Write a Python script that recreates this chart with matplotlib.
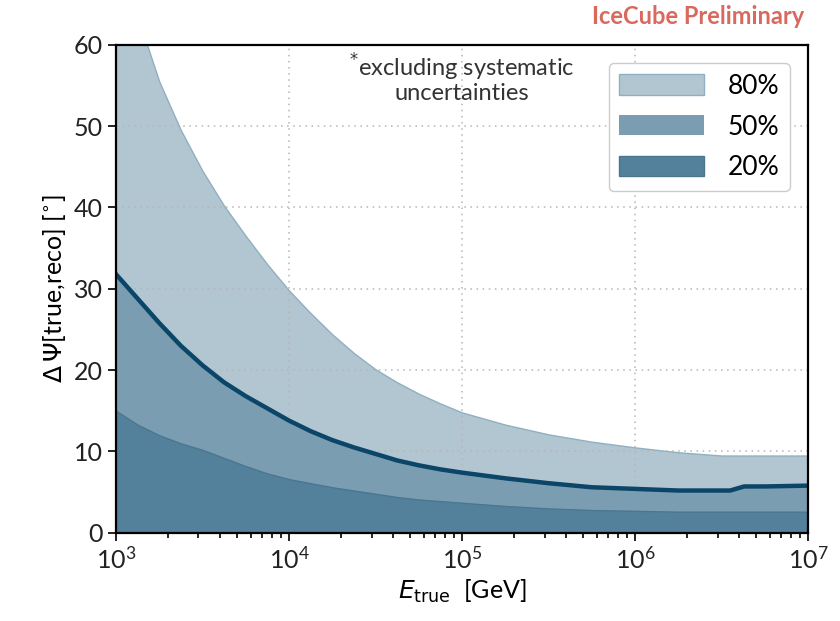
import numpy as np
import matplotlib.pyplot as plt

plt.rcParams['font.family'] = ['Lato', 'DejaVu Sans']
plt.rcParams['mathtext.fontset'] = 'dejavusans'

# log10(E_true / GeV) and the 80 / 50 / 20 % quantiles of the opening angle (deg)
log_e = [3.0, 3.125, 3.25, 3.375, 3.5, 3.625, 3.75, 3.875, 4.0, 4.125, 4.25, 4.375,
         4.5, 4.625, 4.75, 4.875, 5.0, 5.25, 5.5, 5.75, 6.0, 6.25, 6.5, 6.55, 6.63,
         6.75, 7.0]
q80 = [72.0, 63.5, 55.5, 49.5, 44.5, 40.2, 36.5, 33.0, 29.8, 27.0, 24.4, 22.1,
       20.1, 18.5, 17.1, 15.9, 14.8, 13.3, 12.1, 11.2, 10.5, 9.9, 9.5, 9.5, 9.5,
       9.5, 9.5]
q50 = [31.8, 28.8, 25.8, 23.0, 20.6, 18.5, 16.8, 15.3, 13.8, 12.5, 11.4, 10.5,
       9.7, 8.9, 8.3, 7.8, 7.4, 6.7, 6.1, 5.6, 5.4, 5.2, 5.2, 5.2, 5.7,
       5.7, 5.8]
q20 = [15.0, 13.3, 12.0, 11.0, 10.2, 9.2, 8.2, 7.3, 6.6, 6.1, 5.6, 5.2,
       4.8, 4.4, 4.1, 3.9, 3.7, 3.3, 3.0, 2.8, 2.7, 2.6, 2.6, 2.6, 2.6,
       2.6, 2.6]

energy = 10 ** np.array(log_e)

fig, ax = plt.subplots(figsize=(8.4, 6.21), dpi=100)
fig.subplots_adjust(left=0.138, right=0.962, top=0.928, bottom=0.142)

ax.fill_between(energy, 0, q80, color='#b2c6d1', edgecolor='#8fb0c0', lw=1, label='80%', zorder=2)
ax.fill_between(energy, 0, q50, color='#7b9db1', lw=0, label='50%', zorder=3)
ax.fill_between(energy, 0, q20, color='#53819b', edgecolor='#4a7690', lw=1, label='20%', zorder=4)
ax.plot(energy, q50, color='#0b4668', lw=3.2, zorder=5)

ax.set_xscale('log')
ax.set_xlim(1e3, 1e7)
ax.set_ylim(0, 60)
ax.grid(True, which='major', ls=(0, (1, 3)), color='#b5b5b5', lw=1.1, zorder=6)
ax.set_axisbelow(False)
for s in ax.spines.values():
    s.set_linewidth(1.6)
    s.set_zorder(7)
ax.tick_params(labelsize=18, width=1.4, length=6, colors='#222222')
ax.tick_params(which='minor', width=1.2, length=3.5)

ax.set_xlabel(r'$E_{\mathrm{true}}$  [GeV]', fontsize=18)
ax.set_ylabel(r'$\mathit{\Delta\,\Psi}$[true,reco] [$^{\circ}$]', fontsize=18)

ax.text(0.5, 0.985, r'$^{*}$excluding systematic' + '\nuncertainties', transform=ax.transAxes,
        ha='center', va='top', fontsize=17, color='#333333', linespacing=1.0)
fig.text(0.957, 0.955, 'IceCube Preliminary', ha='right', va='bottom',
         fontsize=17, color='#d9695c', fontweight='bold')

leg = ax.legend(loc='upper right', fontsize=19, handlelength=3.2, handleheight=0.8,
                fancybox=True, framealpha=1, edgecolor='#cccccc', borderaxespad=0.7,
                labelspacing=0.6, handletextpad=0.9)
leg.set_zorder(10)

fig.savefig('out.png', dpi=100)
